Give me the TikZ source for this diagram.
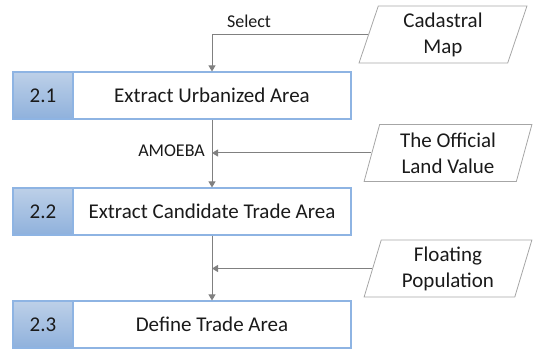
\documentclass[tikz,border=0pt]{standalone}
\usepackage{fontspec}
\setmainfont{Carlito}
\usetikzlibrary{arrows.meta,shapes.geometric}
\definecolor{boxblue}{HTML}{8EB4E3}
\definecolor{celltop}{HTML}{BDD0E8}
\definecolor{cellbot}{HTML}{8FB1DC}
\definecolor{arrgray}{HTML}{808080}
\definecolor{pargray}{HTML}{A6A6A6}
\definecolor{txt}{HTML}{1A1A1A}
\tikzset{
  numcell/.style={draw=boxblue, line width=1.1pt, top color=celltop, bottom color=cellbot,
    minimum width=60pt, minimum height=47pt, inner sep=0pt, font=\fontsize{21}{25}\selectfont, text=txt},
  textcell/.style={draw=boxblue, line width=1.1pt, fill=white,
    minimum width=278pt, minimum height=47pt, inner sep=0pt, font=\fontsize{21}{25}\selectfont, text=txt},
  databox/.style={draw=pargray, line width=0.8pt, shape=trapezium, trapezium left angle=75,
    trapezium right angle=105, trapezium stretches=true, minimum width=168pt, minimum height=57pt,
    inner sep=0pt, align=center, font=\fontsize{21}{26}\selectfont, text=txt},
  arr/.style={draw=arrgray, line width=1pt, -{Triangle[width=7pt,length=6pt]}},
  lbl/.style={font=\fontsize{18}{20}\selectfont, text=txt, inner sep=1pt}
}
\begin{document}
\begin{tikzpicture}[x=1pt,y=-1pt]
\useasboundingbox (0,0) rectangle (533,350);
% process boxes
\node[textcell] (t1) at (212,95.5) {Extract Urbanized Area};
\node[numcell]  (n1) at (43,95.5) {2.1};
\node[textcell] (t2) at (212,211.5) {Extract Candidate Trade Area};
\node[numcell]  (n2) at (43,211.5) {2.2};
\node[textcell] (t3) at (212,324.5) {Define Trade Area};
\node[numcell]  (n3) at (43,324.5) {2.3};
% data inputs
\node[databox] (p1) at (443,34.5) {Cadastral\\Map};
\node[databox] (p2) at (448,153) {The Official\\Land Value};
\node[databox] (p3) at (448,268.5) {Floating\\Population};
% connectors
\draw[arr] (p1.west) -| (t1.north);
\node[lbl] (l1) at (249,21) {Select};
\draw[arr] (t1.south) -- (t2.north);
\coordinate (j2) at (t1.south |- p2.west);
\draw[arr] (p2.west) -- (j2);
\node[lbl, anchor=east] (l2) at (206,151) {AMOEBA};
\draw[arr] (t2.south) -- (t3.north);
\coordinate (j3) at (t2.south |- p3.west);
\draw[arr] (p3.west) -- (j3);
\end{tikzpicture}
\end{document}
